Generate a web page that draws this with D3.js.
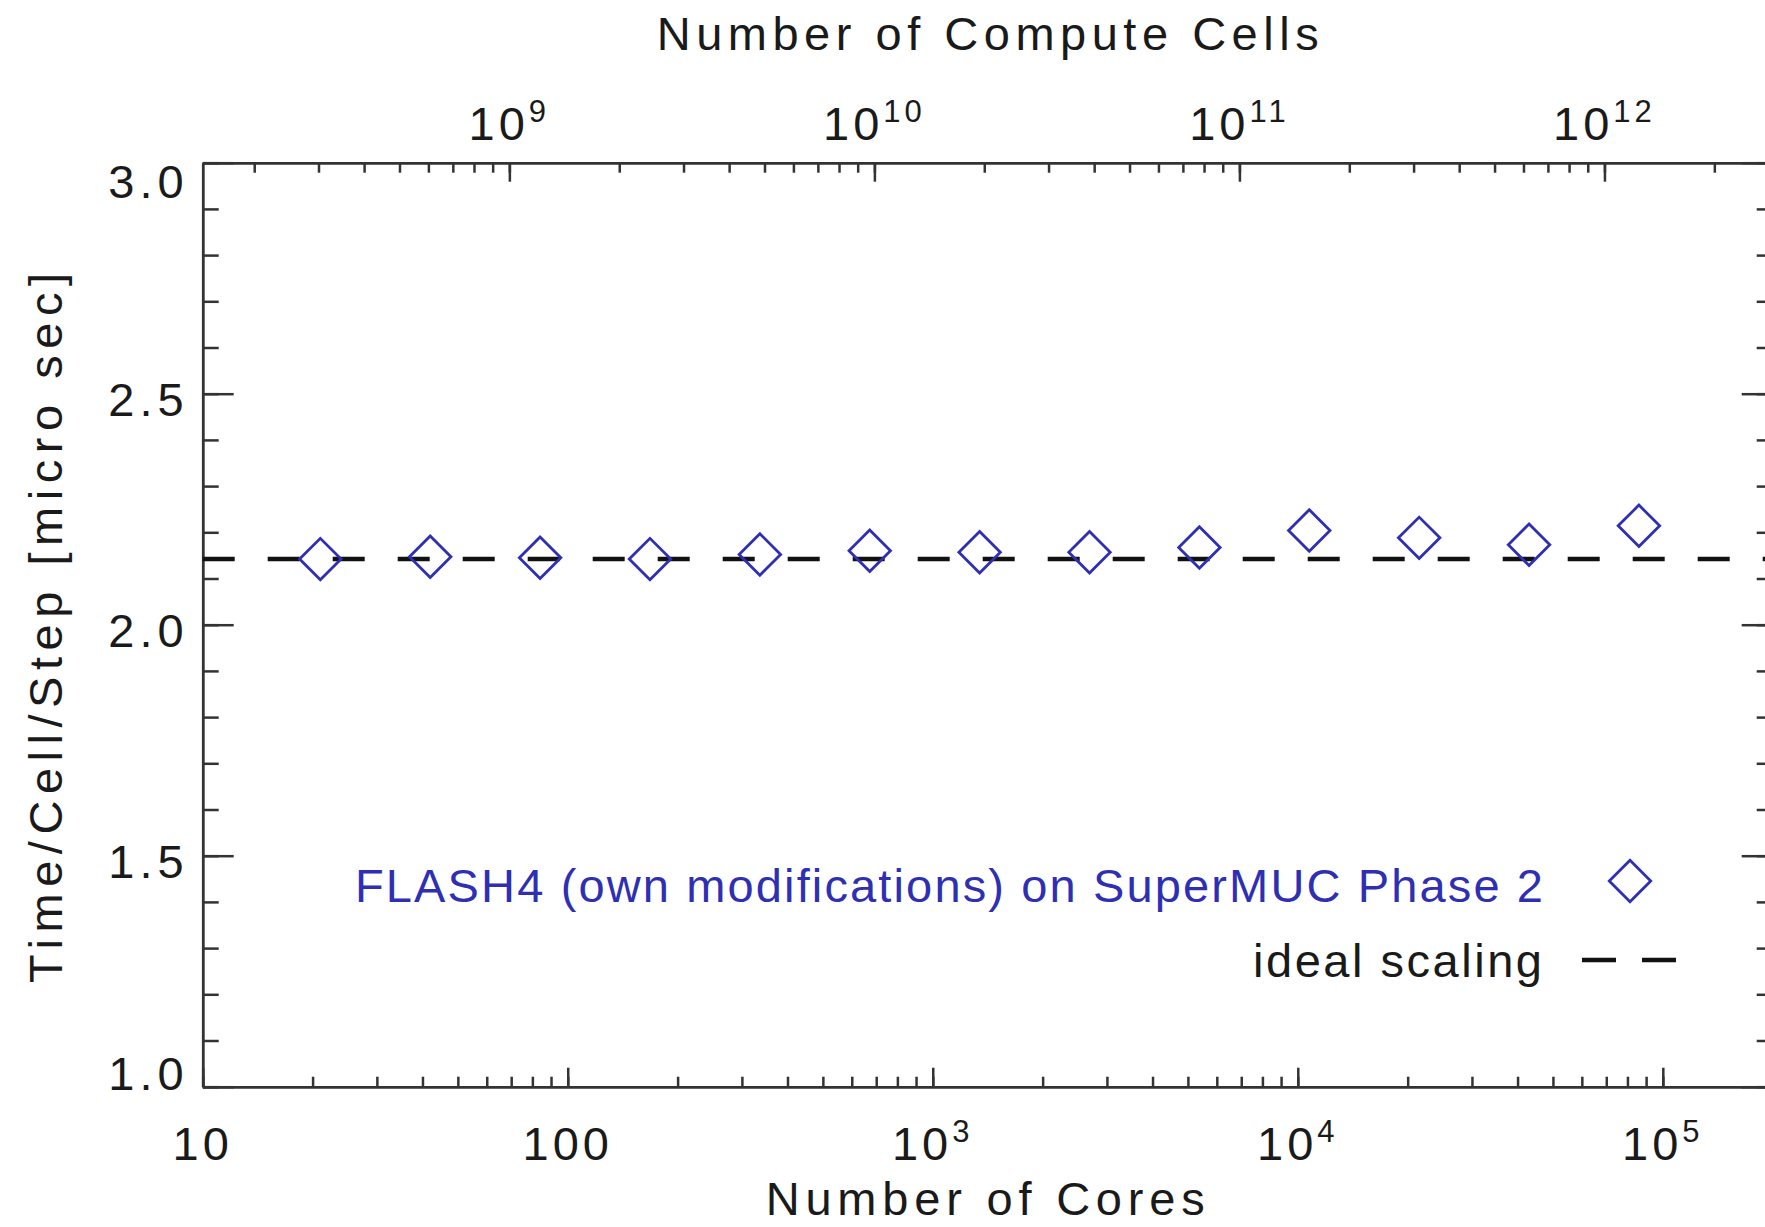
<!DOCTYPE html>
<html lang="en">
<head>
<meta charset="UTF-8">
<title>FLASH4 weak scaling on SuperMUC Phase 2</title>
<script src="https://d3js.org/d3.v7.min.js"></script>
<style>
  body { margin: 0; background: #fff; }
  svg { display: block; font-family: "Liberation Sans", Arial, sans-serif; }
  .axis path, .axis line { stroke: #333; stroke-width: 2.5; }
  .lbl { font-size: 47px; fill: #1a1a1a; }
</style>
</head>
<body>
<svg id="chart" width="1765" height="1227"></svg>
<script>
// data
const cores = [21, 42, 84, 168, 336, 672, 1344, 2688, 5376, 10752, 21504, 43008, 86016];
const timePerCellStep = [2.142, 2.147, 2.145, 2.142, 2.152, 2.160, 2.157, 2.157, 2.167, 2.204, 2.188, 2.173, 2.214];
const idealTime = 2.142;
const cellsPerCore = 14450688; // 672^3 cells on 21 cores

// tick labels
const coreTicks = [10, 100, 1e3, 1e4, 1e5];
const coreTickLabels = [["10", ""], ["100", ""], ["10", "3"], ["10", "4"], ["10", "5"]];
const cellTicks = [1e9, 1e10, 1e11, 1e12];
const cellTickLabels = [["10", "9"], ["10", "10"], ["10", "11"], ["10", "12"]];
const yTicks = [1.0, 1.5, 2.0, 2.5, 3.0];
const yTickLabels = ["1.0", "1.5", "2.0", "2.5", "3.0"];

const blue = "#2f2fb4";
const margin = {top: 162.7, left: 202.7};
const W = 1570, H = 924;

const x = d3.scaleLog().domain([10, 2e5]).range([0, W]);
const xTop = d3.scaleLog().domain([10 * cellsPerCore, 2e5 * cellsPerCore]).range([0, W]);
const y = d3.scaleLinear().domain([1, 3]).range([H, 0]);

const svg = d3.select("#chart");
const g = svg.append("g").attr("transform", `translate(${margin.left},${margin.top})`);

// axes: minor ticks first, then majors
function drawAxis(axisFn, scale, minorVals, majorVals, minorLen, majorLen, tr) {
  g.append("g").attr("class", "axis").attr("transform", tr)
    .call(axisFn(scale).tickValues(minorVals).tickSize(-minorLen).tickSizeOuter(0).tickFormat(""));
  g.append("g").attr("class", "axis").attr("transform", tr)
    .call(axisFn(scale).tickValues(majorVals).tickSize(-majorLen).tickSizeOuter(0).tickFormat(""));
}
drawAxis(d3.axisBottom, x, x.ticks(), coreTicks, 10, 19, `translate(0,${H})`);
drawAxis(d3.axisTop, xTop, xTop.ticks(), cellTicks, 10, 19, "translate(0,0)");
drawAxis(d3.axisLeft, y, y.ticks(20), yTicks, 16, 31, "translate(0,0)");
drawAxis(d3.axisRight, y, y.ticks(20), yTicks, 16, 31, `translate(${W},0)`);

// tick labels with superscripts
function powerLabels(vals, labels, scale, yPos) {
  g.append("g").selectAll("text").data(vals).join("text")
    .attr("class", "lbl")
    .attr("x", d => scale(d)).attr("y", yPos)
    .attr("text-anchor", "middle")
    .style("letter-spacing", "4px")
    .each(function (d, i) {
      const t = d3.select(this);
      t.append("tspan").text(labels[i][0]);
      if (labels[i][1]) t.append("tspan").attr("dy", -18).attr("font-size", 31).text(labels[i][1]);
    });
}
powerLabels(coreTicks, coreTickLabels, x, H + 73.3);
powerLabels(cellTicks, cellTickLabels, xTop, -22.7);

g.append("g").selectAll("text").data(yTicks).join("text")
  .attr("class", "lbl")
  .attr("x", -14)
  .attr("y", d => Math.min(Math.max(y(d) + 22, 35), H + 3))
  .attr("text-anchor", "end")
  .style("letter-spacing", "5px")
  .text((d, i) => yTickLabels[i]);

// axis titles
g.append("text").attr("class", "lbl")
  .attr("x", W / 2 - 331).attr("y", -112.7)
  .attr("textLength", 662).attr("lengthAdjust", "spacing")
  .text("Number of Compute Cells");
g.append("text").attr("class", "lbl")
  .attr("x", W / 2 - 222).attr("y", H + 128)
  .attr("textLength", 439).attr("lengthAdjust", "spacing")
  .text("Number of Cores");
g.append("text").attr("class", "lbl")
  .attr("transform", `translate(${62 - margin.left},${628 - margin.top}) rotate(-90)`)
  .attr("x", -355)
  .attr("textLength", 710).attr("lengthAdjust", "spacing")
  .text("Time/Cell/Step [micro sec]");

// ideal scaling line
g.append("line")
  .attr("x1", 0).attr("x2", W)
  .attr("y1", y(idealTime)).attr("y2", y(idealTime))
  .attr("stroke", "#111").attr("stroke-width", 4.5)
  .attr("stroke-dasharray", "32,33");

// measured points
const diamond = d3.symbol().type(d3.symbolSquare).size(860);
g.append("g").selectAll("path").data(cores).join("path")
  .attr("d", diamond)
  .attr("transform", (d, i) => `translate(${x(d)},${y(timePerCellStep[i])}) rotate(45)`)
  .attr("fill", "none").attr("stroke", blue).attr("stroke-width", 2.8);

// legend
const leg = svg.append("g");
leg.append("text").attr("class", "lbl")
  .attr("x", 355).attr("y", 901.7)
  .attr("textLength", 1188).attr("lengthAdjust", "spacing")
  .style("fill", blue)
  .text("FLASH4 (own modifications) on SuperMUC Phase 2");
leg.append("path")
  .attr("d", diamond)
  .attr("transform", "translate(1630,881) rotate(45)")
  .attr("fill", "none").attr("stroke", blue).attr("stroke-width", 2.8);
leg.append("text").attr("class", "lbl")
  .attr("x", 1253).attr("y", 977)
  .attr("textLength", 289).attr("lengthAdjust", "spacing")
  .text("ideal scaling");
leg.append("line")
  .attr("x1", 1582).attr("x2", 1678).attr("y1", 960).attr("y2", 960)
  .attr("stroke", "#111").attr("stroke-width", 4.5)
  .attr("stroke-dasharray", "34,26");
</script>
</body>
</html>
